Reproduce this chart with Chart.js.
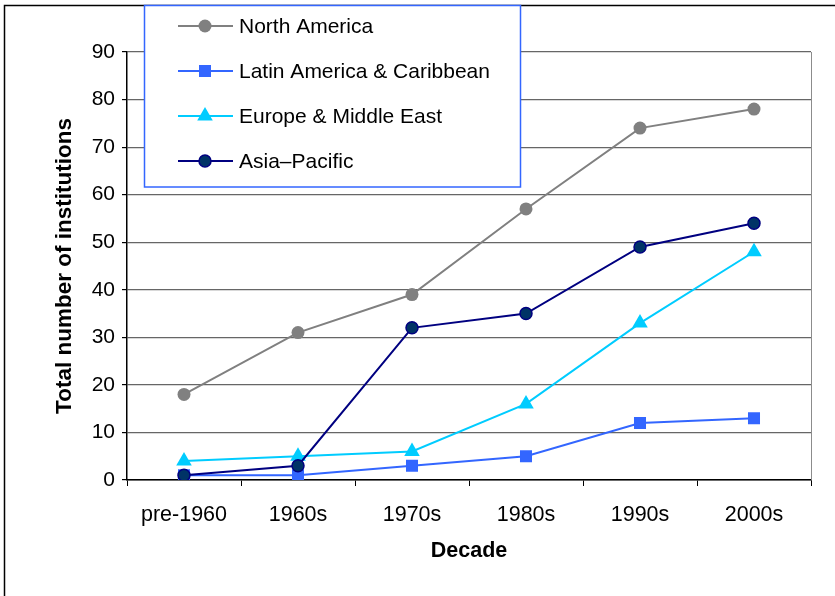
<!DOCTYPE html>
<html>
<head>
<meta charset="utf-8">
<script src="https://cdn.jsdelivr.net/npm/chart.js@4.4.1/dist/chart.umd.min.js"></script>
<style>
  html, body { margin: 0; padding: 0; background: #fff; }
  #wrap { position: relative; width: 835px; height: 596px; }
</style>
</head>
<body>
<div id="wrap"><canvas id="c"></canvas></div>
<script>
// Institutions founded per decade, by region
const decades = ['pre-1960', '1960s', '1970s', '1980s', '1990s', '2000s'];
const northAmerica = [18, 31, 39, 57, 74, 78];
const latinAmerica = [1, 1, 3, 5, 12, 13];
const europeMiddleEast = [4, 5, 6, 16, 33, 48];
const asiaPacific = [1, 3, 32, 35, 49, 54];
const seriesNames = ['North America', 'Latin America & Caribbean', 'Europe & Middle East', 'Asia\u2013Pacific'];
const yTicks = [0, 10, 20, 30, 40, 50, 60, 70, 80, 90];

const FONT = "'Liberation Sans', Arial, sans-serif";

// Frame lines along the top and left of the figure
const framePlugin = {
  id: 'frame',
  beforeDraw(chart) {
    const ctx = chart.ctx;
    ctx.save();
    ctx.strokeStyle = '#000';
    ctx.lineWidth = 1.5;
    ctx.beginPath();
    ctx.moveTo(4.5, 596);
    ctx.lineTo(4.5, 5.5);
    ctx.lineTo(835, 5.5);
    ctx.stroke();
    ctx.restore();
  },
  afterDatasetsDraw(chart) {
    // right edge of the plot area
    const a = chart.chartArea;
    const ctx = chart.ctx;
    ctx.save();
    ctx.strokeStyle = '#8c8c8c';
    ctx.lineWidth = 1;
    ctx.beginPath();
    ctx.moveTo(Math.round(a.right) + 0.5, a.top);
    ctx.lineTo(Math.round(a.right) + 0.5, a.bottom);
    ctx.stroke();
    ctx.restore();
  }
};

function drawMarker(ctx, style, r, x, y) {
  if (style === 'circle') {
    ctx.arc(x, y, r, 0, Math.PI * 2);
  } else if (style === 'rect') {
    const s = r * Math.SQRT1_2;
    ctx.rect(x - s, y - s, 2 * s, 2 * s);
  } else if (style === 'triangle') {
    ctx.moveTo(x, y - r);
    ctx.lineTo(x + r * Math.sin(2 * Math.PI / 3), y - r * Math.cos(2 * Math.PI / 3));
    ctx.lineTo(x + r * Math.sin(4 * Math.PI / 3), y - r * Math.cos(4 * Math.PI / 3));
    ctx.closePath();
  }
}

// Boxed legend in the upper-left corner, overlapping the plot
const boxLegend = {
  id: 'boxLegend',
  afterDraw(chart) {
    const ctx = chart.ctx;
    const box = { x: 144.5, y: 5.5, w: 376, h: 181.5 };
    ctx.save();
    ctx.fillStyle = '#fff';
    ctx.fillRect(box.x, box.y, box.w, box.h);
    ctx.strokeStyle = '#3366ff';
    ctx.lineWidth = 1.5;
    ctx.strokeRect(box.x, box.y, box.w, box.h);
    const rowY0 = 26, rowGap = 45;
    chart.data.datasets.forEach((ds, i) => {
      const y = rowY0 + i * rowGap;
      ctx.strokeStyle = ds.borderColor;
      ctx.lineWidth = ds.borderWidth;
      ctx.beginPath();
      ctx.moveTo(178, y);
      ctx.lineTo(233, y);
      ctx.stroke();
      ctx.fillStyle = ds.pointBackgroundColor;
      ctx.strokeStyle = ds.pointBorderColor;
      ctx.lineWidth = ds.pointBorderWidth;
      ctx.beginPath();
      drawMarker(ctx, ds.pointStyle, ds.pointRadius, 205, y);
      ctx.fill();
      if (ds.pointBorderWidth > 0) ctx.stroke();
      ctx.fillStyle = '#000';
      ctx.font = '21px ' + FONT;
      ctx.textAlign = 'left';
      ctx.textBaseline = 'middle';
      ctx.fillText(ds.label, 239, y + 1);
    });
    ctx.restore();
  }
};

function series(label, data, line, fill, border, style, radius, bw, order) {
  return {
    label, data, order,
    borderColor: line, borderWidth: 2,
    pointStyle: style, pointRadius: radius, pointHoverRadius: radius,
    pointBackgroundColor: fill, pointBorderColor: border, pointBorderWidth: bw,
    tension: 0, fill: false
  };
}

new Chart(document.getElementById('c'), {
  type: 'line',
  data: {
    labels: decades,
    datasets: [
      series(seriesNames[0], northAmerica, '#808080', '#808080', '#808080', 'circle', 6.5, 0, 4),
      series(seriesNames[1], latinAmerica, '#3366ff', '#3366ff', '#3366ff', 'rect', 8.5, 0, 3),
      series(seriesNames[2], europeMiddleEast, '#00ccff', '#00ccff', '#00ccff', 'triangle', 9, 0, 2),
      series(seriesNames[3], asiaPacific, '#000080', '#003366', '#000080', 'circle', 6, 1.5, 1)
    ]
  },
  options: {
    responsive: true,
    maintainAspectRatio: false,
    animation: false,
    events: [],
    layout: { padding: { top: 52, right: 24, left: 0, bottom: 0 } },
    plugins: { legend: { display: false }, tooltip: { enabled: false } },
    scales: {
      x: {
        offset: true,
        afterFit: s => { s.height = 116; },
        grid: { display: true, drawOnChartArea: false, drawTicks: true, tickLength: 6, color: '#000', offset: true },
        border: { display: true, color: '#000', width: 1.5 },
        ticks: { color: '#000', font: { family: FONT, size: 21.5 }, padding: 16, maxRotation: 0, autoSkip: false },
        title: { display: true, text: 'Decade', color: '#000', font: { family: FONT, size: 21.5, weight: 'bold' }, padding: { top: 0, bottom: 32 } }
      },
      y: {
        min: 0, max: 90,
        afterFit: s => { s.width = 127; },
        afterBuildTicks: s => { s.ticks = yTicks.map(v => ({ value: v })); },
        grid: { color: '#666666', lineWidth: 1.2, drawTicks: true, tickLength: 5, tickColor: '#000' },
        border: { display: true, color: '#000', width: 1.5 },
        ticks: { color: '#000', font: { family: FONT, size: 21 }, padding: 7 },
        title: { display: true, text: 'Total number of institutions', color: '#000', font: { family: FONT, size: 22.5, weight: 'bold' }, padding: { top: 51, bottom: 0 } }
      }
    }
  },
  plugins: [framePlugin, boxLegend]
});
</script>
</body>
</html>
